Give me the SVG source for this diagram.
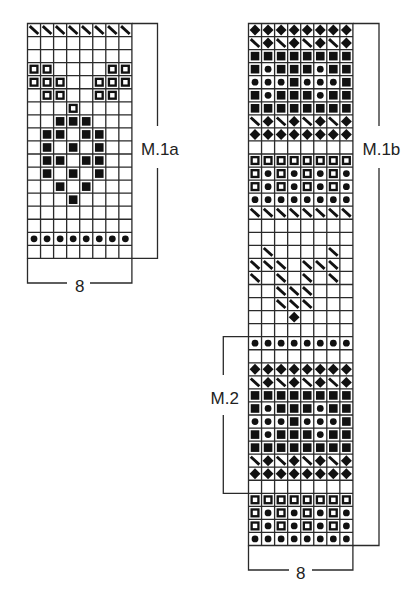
<svg xmlns="http://www.w3.org/2000/svg" xmlns:xlink="http://www.w3.org/1999/xlink" width="418" height="600" viewBox="0 0 418 600">
<style>
.grid{fill:#fff;stroke:#2a2a2a;stroke-width:0.1}
.sym{fill:#111}
.osq{fill:none;stroke:#111;stroke-width:0.18}
.diag{stroke:#111;stroke-width:0.22;fill:none}
.br{fill:none;stroke:#2a2a2a;stroke-width:1.3}
.lbl{font-family:"Liberation Sans",Arial,sans-serif;font-size:17px;fill:#222}
</style>
<defs>
<rect id="sq" class="sym" x="0.17" y="0.17" width="0.66" height="0.66"/>
<rect id="os" class="osq" x="0.24" y="0.24" width="0.52" height="0.52"/>
<circle id="dt" class="sym" cx="0.5" cy="0.5" r="0.26"/>
<polygon id="dm" class="sym" points="0.5,0.08 0.92,0.5 0.5,0.92 0.08,0.5"/>
<line id="dg" class="diag" x1="0.17" y1="0.2" x2="0.83" y2="0.8"/>
<g id="r-dia"><use href="#dm" x="0"/><use href="#dm" x="1"/><use href="#dm" x="2"/><use href="#dm" x="3"/><use href="#dm" x="4"/><use href="#dm" x="5"/><use href="#dm" x="6"/><use href="#dm" x="7"/></g>
<g id="r-dd"><use href="#dg" x="0"/><use href="#dm" x="1"/><use href="#dg" x="2"/><use href="#dm" x="3"/><use href="#dg" x="4"/><use href="#dm" x="5"/><use href="#dg" x="6"/><use href="#dm" x="7"/></g>
<g id="r-sq"><use href="#sq" x="0"/><use href="#sq" x="1"/><use href="#sq" x="2"/><use href="#sq" x="3"/><use href="#sq" x="4"/><use href="#sq" x="5"/><use href="#sq" x="6"/><use href="#sq" x="7"/></g>
<g id="r-sqdot"><use href="#sq" x="0"/><use href="#dt" x="1"/><use href="#sq" x="2"/><use href="#sq" x="3"/><use href="#sq" x="4"/><use href="#dt" x="5"/><use href="#sq" x="6"/><use href="#sq" x="7"/></g>
<g id="r-dotsq"><use href="#dt" x="0"/><use href="#dt" x="1"/><use href="#dt" x="2"/><use href="#sq" x="3"/><use href="#dt" x="4"/><use href="#dt" x="5"/><use href="#dt" x="6"/><use href="#sq" x="7"/></g>
<g id="r-osq"><use href="#os" x="0"/><use href="#os" x="1"/><use href="#os" x="2"/><use href="#os" x="3"/><use href="#os" x="4"/><use href="#os" x="5"/><use href="#os" x="6"/><use href="#os" x="7"/></g>
<g id="r-odot"><use href="#os" x="0"/><use href="#dt" x="1"/><use href="#os" x="2"/><use href="#dt" x="3"/><use href="#os" x="4"/><use href="#dt" x="5"/><use href="#os" x="6"/><use href="#dt" x="7"/></g>
<g id="r-dot"><use href="#dt" x="0"/><use href="#dt" x="1"/><use href="#dt" x="2"/><use href="#dt" x="3"/><use href="#dt" x="4"/><use href="#dt" x="5"/><use href="#dt" x="6"/><use href="#dt" x="7"/></g>
<g id="r-diag"><use href="#dg" x="0"/><use href="#dg" x="1"/><use href="#dg" x="2"/><use href="#dg" x="3"/><use href="#dg" x="4"/><use href="#dg" x="5"/><use href="#dg" x="6"/><use href="#dg" x="7"/></g>
</defs>
<rect width="418" height="600" fill="#fff"/>

<g id="chart-m1a" transform="translate(27.5,23.5) scale(13.05)">
<path class="grid" d="M0,0H8V18H0Z M1,0V18M2,0V18M3,0V18M4,0V18M5,0V18M6,0V18M7,0V18 M0,1H8M0,2H8M0,3H8M0,4H8M0,5H8M0,6H8M0,7H8M0,8H8M0,9H8M0,10H8M0,11H8M0,12H8M0,13H8M0,14H8M0,15H8M0,16H8M0,17H8"/>
<use href="#r-diag" y="0"/>
<g transform="translate(0,3)"><use href="#os" x="0"/><use href="#os" x="1"/><use href="#os" x="6"/><use href="#os" x="7"/></g>
<g transform="translate(0,4)"><use href="#os" x="0"/><use href="#os" x="1"/><use href="#os" x="2"/><use href="#os" x="5"/><use href="#os" x="6"/><use href="#os" x="7"/></g>
<g transform="translate(0,5)"><use href="#os" x="1"/><use href="#os" x="2"/><use href="#os" x="5"/><use href="#os" x="6"/></g>
<g transform="translate(0,6)"><use href="#os" x="3"/></g>
<g transform="translate(0,7)"><use href="#sq" x="2"/><use href="#sq" x="3"/><use href="#sq" x="4"/></g>
<g transform="translate(0,8)"><use href="#sq" x="1"/><use href="#sq" x="2"/><use href="#sq" x="4"/><use href="#sq" x="5"/></g>
<g transform="translate(0,9)"><use href="#sq" x="1"/><use href="#sq" x="3"/><use href="#sq" x="5"/></g>
<g transform="translate(0,10)"><use href="#sq" x="1"/><use href="#sq" x="2"/><use href="#sq" x="4"/><use href="#sq" x="5"/></g>
<g transform="translate(0,11)"><use href="#sq" x="1"/><use href="#sq" x="3"/><use href="#sq" x="5"/></g>
<g transform="translate(0,12)"><use href="#sq" x="2"/><use href="#sq" x="4"/></g>
<g transform="translate(0,13)"><use href="#sq" x="3"/></g>
<use href="#r-dot" y="16"/>
</g>

<g id="chart-m1b" transform="translate(248.5,23.5) scale(13.05)">
<path class="grid" d="M0,0H8V40H0Z M1,0V40M2,0V40M3,0V40M4,0V40M5,0V40M6,0V40M7,0V40 M0,1H8M0,2H8M0,3H8M0,4H8M0,5H8M0,6H8M0,7H8M0,8H8M0,9H8M0,10H8M0,11H8M0,12H8M0,13H8M0,14H8M0,15H8M0,16H8M0,17H8M0,18H8M0,19H8M0,20H8M0,21H8M0,22H8M0,23H8M0,24H8M0,25H8M0,26H8M0,27H8M0,28H8M0,29H8M0,30H8M0,31H8M0,32H8M0,33H8M0,34H8M0,35H8M0,36H8M0,37H8M0,38H8M0,39H8"/>
<use href="#r-dia" y="0"/>
<use href="#r-dd" y="1"/>
<use href="#r-sq" y="2"/>
<use href="#r-sqdot" y="3"/>
<use href="#r-dotsq" y="4"/>
<use href="#r-sqdot" y="5"/>
<use href="#r-sq" y="6"/>
<use href="#r-dd" y="7"/>
<use href="#r-dia" y="8"/>
<use href="#r-osq" y="10"/>
<use href="#r-odot" y="11"/>
<use href="#r-odot" y="12"/>
<use href="#r-dot" y="13"/>
<use href="#r-diag" y="14"/>
<g transform="translate(0,17)"><use href="#dg" x="1"/><use href="#dg" x="6"/></g>
<g transform="translate(0,18)"><use href="#dg" x="0"/><use href="#dg" x="1"/><use href="#dg" x="2"/><use href="#dg" x="4"/><use href="#dg" x="5"/><use href="#dg" x="6"/></g>
<g transform="translate(0,19)"><use href="#dg" x="0"/><use href="#dg" x="2"/><use href="#dg" x="4"/><use href="#dg" x="6"/></g>
<g transform="translate(0,20)"><use href="#dg" x="2"/><use href="#dg" x="3"/><use href="#dg" x="4"/></g>
<g transform="translate(0,21)"><use href="#dg" x="2"/><use href="#dg" x="3"/><use href="#dg" x="4"/></g>
<g transform="translate(0,22)"><use href="#dm" x="3"/></g>
<use href="#r-dot" y="24"/>
<use href="#r-dia" y="26"/>
<use href="#r-dd" y="27"/>
<use href="#r-sq" y="28"/>
<use href="#r-sqdot" y="29"/>
<use href="#r-dotsq" y="30"/>
<use href="#r-sqdot" y="31"/>
<use href="#r-sq" y="32"/>
<use href="#r-dd" y="33"/>
<use href="#r-dia" y="34"/>
<use href="#r-osq" y="36"/>
<use href="#r-odot" y="37"/>
<use href="#r-odot" y="38"/>
<use href="#r-dot" y="39"/>
</g>

<g id="connectors">
<path class="br" d="M131.9,23.5H157.5V126M157.5,168V258.4H131.9"/>
<path class="br" d="M27.5,258.4V283H67M90,283H131.9V258.4"/>
<path class="br" d="M352.9,23.5H379V126M379,168V545.5H352.9"/>
<path class="br" d="M248.5,545.5V570H289M312,570H352.9V545.5"/>
<path class="br" d="M248.5,336.7H223.3V375M223.3,415V493.3H248.5"/>
</g>

<g id="labels">
<text id="lbl-m1a" class="lbl" x="141" y="155">M.1a</text>
<text id="lbl-m1b" class="lbl" x="362.5" y="155">M.1b</text>
<text id="lbl-m2" class="lbl" x="210.5" y="403.5">M.2</text>
<text id="lbl-8a" class="lbl" x="79.7" y="291.7" text-anchor="middle">8</text>
<text id="lbl-8b" class="lbl" x="300.7" y="578.5" text-anchor="middle">8</text>
</g>
</svg>
